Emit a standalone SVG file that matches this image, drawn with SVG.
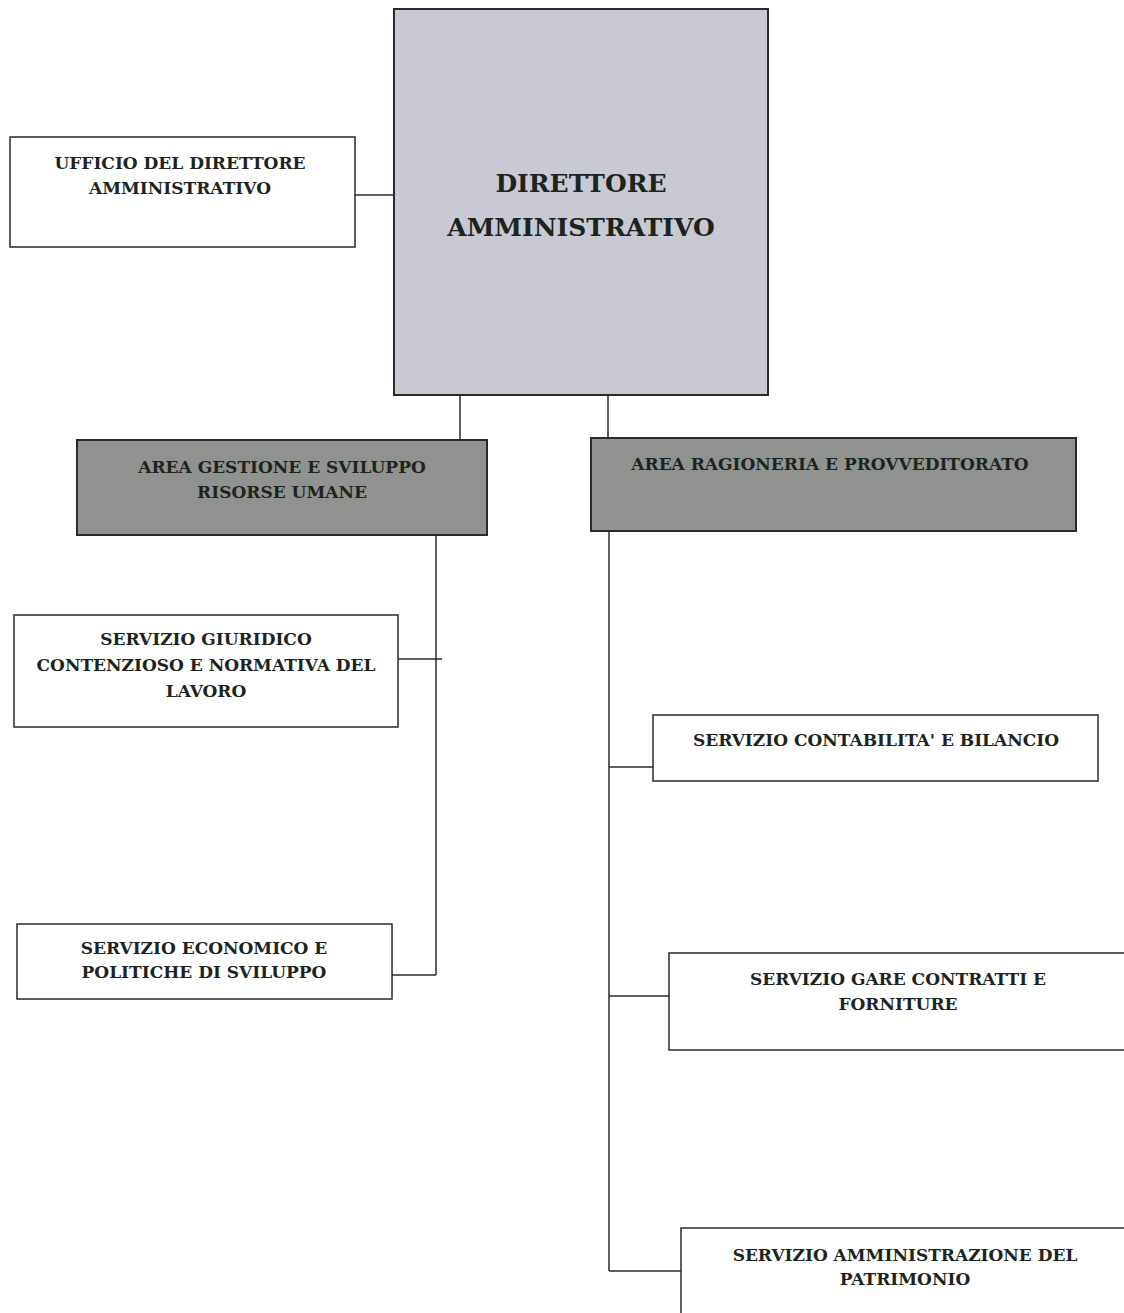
<svg xmlns="http://www.w3.org/2000/svg" width="1124" height="1313" viewBox="0 0 1124 1313">
<style>
.box{fill:#ffffff;stroke:#2a2a2a;stroke-width:1.5}
.top{fill:#c8c9d2;stroke:#2a2a2a;stroke-width:2}
.area{fill:#8f928f;stroke:#2a2a2a;stroke-width:2}
.t{font-family:"DejaVu Serif","Liberation Serif",serif;font-weight:bold;fill:#1c2420;text-anchor:middle}
.s{font-size:17px}
.big{font-size:25px}
.conn line{stroke:#2a2a2a;stroke-width:1.5}
</style>
<rect width="1124" height="1313" fill="#ffffff"/>
<g class="conn">
<line x1="355" y1="195" x2="393" y2="195"/>
<line x1="460" y1="395" x2="460" y2="440"/>
<line x1="608" y1="395" x2="608" y2="438"/>
<line x1="436" y1="535" x2="436" y2="975"/>
<line x1="398" y1="659" x2="442" y2="659"/>
<line x1="392" y1="975" x2="436" y2="975"/>
<line x1="609" y1="531" x2="609" y2="1271"/>
<line x1="609" y1="767" x2="653" y2="767"/>
<line x1="609" y1="996" x2="669" y2="996"/>
<line x1="609" y1="1271" x2="681" y2="1271"/>
</g>
<g id="direttore">
<rect class="top" x="394" y="9" width="374" height="386"/>
<text class="t big" x="581" y="192">DIRETTORE</text>
<text class="t big" x="581" y="236">AMMINISTRATIVO</text>
</g>
<g id="ufficio">
<rect class="box" x="10" y="137" width="345" height="110"/>
<text class="t s" x="180" y="169">UFFICIO DEL DIRETTORE</text>
<text class="t s" x="180" y="194">AMMINISTRATIVO</text>
</g>
<g id="area-risorse">
<rect class="area" x="77" y="440" width="410" height="95"/>
<text class="t s" x="282" y="473">AREA GESTIONE E SVILUPPO</text>
<text class="t s" x="282" y="498">RISORSE UMANE</text>
</g>
<g id="area-ragioneria">
<rect class="area" x="591" y="438" width="485" height="93"/>
<text class="t s" x="830" y="470">AREA RAGIONERIA E PROVVEDITORATO</text>
</g>
<g id="giuridico">
<rect class="box" x="14" y="615" width="384" height="112"/>
<text class="t s" x="206" y="645">SERVIZIO GIURIDICO</text>
<text class="t s" x="206" y="671">CONTENZIOSO E NORMATIVA DEL</text>
<text class="t s" x="206" y="697">LAVORO</text>
</g>
<g id="economico">
<rect class="box" x="17" y="924" width="375" height="75"/>
<text class="t s" x="204" y="954">SERVIZIO ECONOMICO E</text>
<text class="t s" x="204" y="978">POLITICHE DI SVILUPPO</text>
</g>
<g id="contabilita">
<rect class="box" x="653" y="715" width="445" height="66"/>
<text class="t s" x="876" y="746">SERVIZIO CONTABILITA' E BILANCIO</text>
</g>
<g id="gare">
<rect class="box" x="669" y="953" width="462" height="97"/>
<text class="t s" x="898" y="985">SERVIZIO GARE CONTRATTI E</text>
<text class="t s" x="898" y="1010">FORNITURE</text>
</g>
<g id="patrimonio">
<rect class="box" x="681" y="1228" width="450" height="92"/>
<text class="t s" x="905" y="1261">SERVIZIO AMMINISTRAZIONE DEL</text>
<text class="t s" x="905" y="1285">PATRIMONIO</text>
</g>
</svg>
